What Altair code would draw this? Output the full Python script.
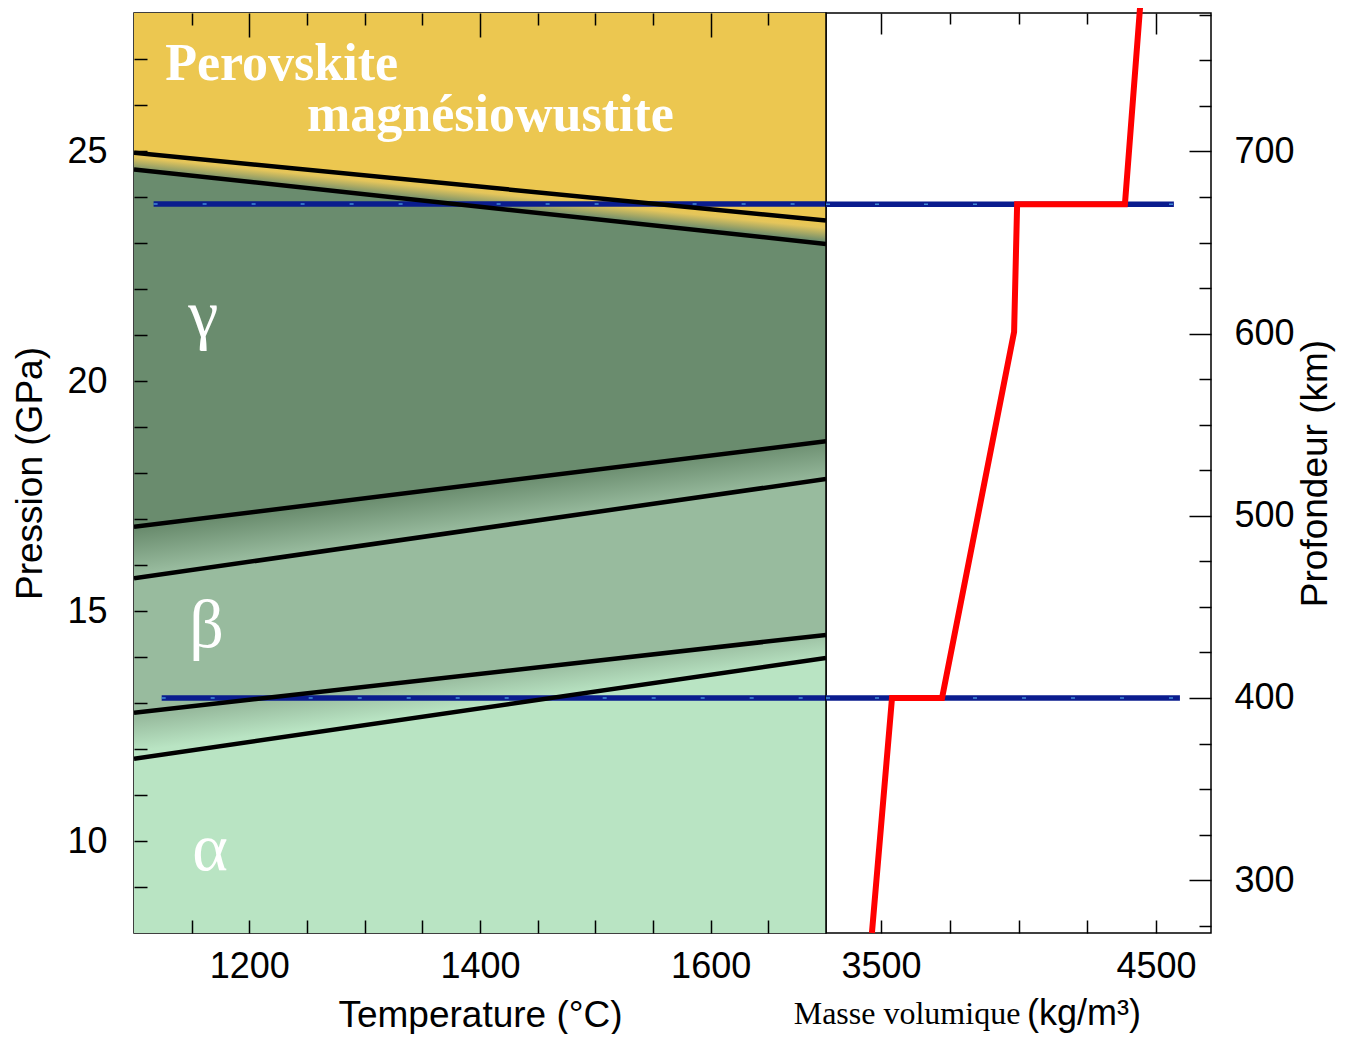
import altair as alt
import pandas as pd

# ---------------- data ----------------
T_ENDS = [1100, 1700]
LINE_A = [24.96, 23.49]
LINE_B = [24.60, 22.98]
LINE_C = [16.83, 18.69]
LINE_D = [15.71, 17.87]
LINE_E = [12.79, 14.48]
LINE_F = [11.79, 13.98]

T_RANGE = [1100, 1700]
P_RANGE = [8, 28]
RHO_RANGE = [3300, 4700]
DEPTH_RANGE = [271, 776]

BLUE_P = [23.85, 13.11]
BLUE_T_START = [1117, 1124]
BLUE_DEPTH = [671, 400]
BLUE_RHO_END = [4565, 4587]

RED_RHO = [4442, 4387, 3995, 3984, 3722, 3540, 3467]
RED_DEPTH = [779, 671, 671, 601, 400, 400, 271]

PHASE_TEXT = ["Perovskite", "magnésiowustite"]
PHASE_T = [1127, 1250]
PHASE_P = [26.55, 25.44]
GREEK_TEXT = ["γ", "β", "α"]
GREEK_T = [1160, 1163, 1166]
GREEK_P = [20.95, 14.22, 9.37]

X2_TITLE = ["Masse volumique", "(kg/m³)"]

T_LABELS = [1200, 1400, 1600]
P_LABELS = [10, 15, 20, 25]
RHO_LABELS = [3500, 4500]
DEPTH_LABELS = [300, 400, 500, 600, 700]
T_TICKS = [1150, 1200, 1250, 1300, 1350, 1400, 1450, 1500, 1550, 1600, 1650]
P_TICKS = list(range(9, 28))
RHO_TICKS = [3500, 3750, 4000, 4250, 4500]
DEPTH_TICKS = list(range(275, 776, 25))

# ---------------- style ----------------
W_L, W_R, H = 692, 385, 920
SANS = "Liberation Sans"
SERIF = "Liberation Serif"
YELLOW = "#ECC750"
GAMMA = "#6A8C6E"
BETA = "#98BB9E"
ALPHA = "#B9E4C3"
NAVY = "#0A1C8E"

XL = alt.Scale(domain=T_RANGE, nice=False, zero=False)
YL = alt.Scale(domain=P_RANGE, nice=False, zero=False)
XR = alt.Scale(domain=RHO_RANGE, nice=False, zero=False)
YR = alt.Scale(domain=DEPTH_RANGE, nice=False, zero=False)


def label_axis(orient, values, label_pad, **kw):
    return alt.Axis(orient=orient, values=values, format="d", ticks=False, tickSize=0, domain=False,
                    grid=False, labelFont=SANS, labelFontSize=36, labelColor="black",
                    labelPadding=label_pad, labelFlush=False, labelOverlap=False,
                    titleFont=SANS, titleFontSize=37, titleFontWeight="normal",
                    titleColor="black", zindex=3, **kw)


def tick_axis(orient, offset, values, size):
    return alt.Axis(orient=orient, offset=offset, values=values, labels=False, domain=False,
                    grid=False, title=None, ticks=True, tickSize=size, tickColor="black",
                    tickWidth=1.5, zindex=3)


def cond(test, big, small):
    return {"condition": {"test": test, "value": big}, "value": small}


# ---------------- left panel ----------------
region_rows = []
for name, lo, hi in [("alpha", [P_RANGE[0]] * 2, LINE_F), ("beta", LINE_E, LINE_D),
                     ("gamma", LINE_C, LINE_B), ("pv", LINE_A, [P_RANGE[1]] * 2)]:
    for t, l, h in zip(T_ENDS, lo, hi):
        region_rows.append({"region": name, "T": t, "lo": l, "hi": h})
regions_df = pd.DataFrame(region_rows)

regions = alt.Chart(regions_df).mark_area(clip=True).encode(
    x=alt.X("T:Q", scale=XL, axis=label_axis("bottom", T_LABELS, 16, title="Temperature (°C)", titlePadding=13)),
    y=alt.Y("lo:Q", scale=YL, axis=label_axis("left", P_LABELS, 27, title="Pression (GPa)", titlePadding=17)),
    y2="hi:Q",
    color=alt.Color("region:N", legend=None,
                    scale=alt.Scale(domain=["alpha", "beta", "gamma", "pv"],
                                    range=[ALPHA, BETA, GAMMA, YELLOW])),
)


def py(p):
    return (P_RANGE[1] - p) / (P_RANGE[1] - P_RANGE[0]) * H


def gradient(top, bot, stops):
    yt = [py(p) for p in top]
    yb = [py(p) for p in bot]
    ymin, ymax = min(yt), max(yb)
    bh = ymax - ymin
    nt = [(v - ymin) / bh for v in yt]
    nb = [(v - ymin) / bh for v in yb]
    st, sb = nt[1] - nt[0], nb[1] - nb[0]
    sa = (st + sb) / 2
    x1, y1 = 0.5, nt[0] + 0.5 * st
    gap = nb[0] + 0.5 * sb - y1
    s = gap / (1 + sa * sb)
    x2, y2 = 0.5 - s * sa, y1 + s
    return alt.Gradient(gradient="linear",
                        stops=[alt.GradientStop(color=c, offset=o) for o, c in stops],
                        x1=x1, y1=y1, x2=x2, y2=y2)


def band(top, bot, stops, xaxis=None, yaxis=None):
    df = pd.DataFrame({"T": T_ENDS, "lo": bot, "hi": top})
    return alt.Chart(df).mark_area(clip=True, color=gradient(top, bot, stops)).encode(
        x=alt.X("T:Q", scale=XL, axis=xaxis),
        y=alt.Y("lo:Q", scale=YL, axis=yaxis),
        y2="hi:Q",
    )


band_ab = band(LINE_A, LINE_B, [(0, YELLOW), (0.3, "#E4C55B"), (1, GAMMA)],
               xaxis=tick_axis("top", -H, T_TICKS, 13),
               yaxis=tick_axis("right", -W_L, P_TICKS, 13))
band_cd = band(LINE_C, LINE_D, [(0, GAMMA), (1, BETA)],
               xaxis=tick_axis("bottom", -H, T_TICKS, cond("datum.value % 200 === 0", 24, 12)))
band_ef = band(LINE_E, LINE_F, [(0, BETA), (1, ALPHA)])

blue_l_df = pd.DataFrame({"P": BLUE_P, "T0": BLUE_T_START, "T1": [T_RANGE[1]] * 2})
blue_l = alt.Chart(blue_l_df).mark_rule(color=NAVY, strokeWidth=5.5, clip=True).encode(
    x=alt.X("T0:Q", scale=XL, axis=None), x2="T1:Q", y=alt.Y("P:Q", scale=YL, axis=None))
blue_l2 = alt.Chart(blue_l_df).mark_rule(color="#4FA8E8", strokeWidth=1.5, strokeDash=[4, 45],
                                         opacity=0.8, clip=True).encode(
    x=alt.X("T0:Q", scale=XL, axis=None), x2="T1:Q", y=alt.Y("P:Q", scale=YL, axis=None))

line_rows = []
for name, vals in zip("ABCDEF", [LINE_A, LINE_B, LINE_C, LINE_D, LINE_E, LINE_F]):
    for t, p in zip(T_ENDS, vals):
        line_rows.append({"line": name, "T": t, "P": p})
lines = alt.Chart(pd.DataFrame(line_rows)).mark_line(color="black", strokeWidth=4.5, clip=True).encode(
    x=alt.X("T:Q", scale=XL, axis=None), y=alt.Y("P:Q", scale=YL, axis=None), detail="line:N")

phase_txt = alt.Chart(pd.DataFrame({"t": PHASE_TEXT, "T": PHASE_T, "P": PHASE_P})).mark_text(
    font=SERIF, fontSize=52, fontWeight="bold", color="white", align="left", baseline="alphabetic"
).encode(x=alt.X("T:Q", scale=XL, axis=None), y=alt.Y("P:Q", scale=YL, axis=None), text="t:N")

greek_txt = alt.Chart(pd.DataFrame({"t": GREEK_TEXT, "T": GREEK_T, "P": GREEK_P})).mark_text(
    font=SERIF, fontSize=68, color="white", align="center", baseline="alphabetic"
).encode(x=alt.X("T:Q", scale=XL, axis=None), y=alt.Y("P:Q", scale=YL, axis=None), text="t:N")

left = alt.layer(regions, band_ab, band_cd, band_ef, blue_l, blue_l2, lines, phase_txt, greek_txt
                 ).resolve_axis(x="independent", y="independent").properties(width=W_L, height=H)

# ---------------- right panel ----------------
blue_r_df = pd.DataFrame({"D": BLUE_DEPTH, "R0": [RHO_RANGE[0]] * 2, "R1": BLUE_RHO_END})
blue_r = alt.Chart(blue_r_df).mark_rule(color=NAVY, strokeWidth=5.5).encode(
    x=alt.X("R0:Q", scale=XR, axis=tick_axis("top", -H, RHO_TICKS, 13)),
    x2="R1:Q",
    y=alt.Y("D:Q", scale=YR, axis=tick_axis("left", -W_R, DEPTH_TICKS, cond("datum.value % 100 === 0", 22, 12))))
blue_r2 = alt.Chart(blue_r_df).mark_rule(color="#4FA8E8", strokeWidth=1.5, strokeDash=[4, 45], opacity=0.8).encode(
    x=alt.X("R0:Q", scale=XR, axis=tick_axis("bottom", -H, RHO_TICKS, cond("datum.value % 1000 === 500", 21, 11))),
    x2="R1:Q",
    y=alt.Y("D:Q", scale=YR, axis=None))

red_df = pd.DataFrame({"rho": RED_RHO, "depth": RED_DEPTH, "i": list(range(len(RED_RHO)))})
red = alt.Chart(red_df).mark_line(color="#FF0000", strokeWidth=6).encode(
    x=alt.X("rho:Q", scale=XR, axis=label_axis("bottom", RHO_LABELS, 16, title=None)),
    y=alt.Y("depth:Q", scale=YR, axis=label_axis("right", DEPTH_LABELS, 23, title="Profondeur (km)",
                                                 titlePadding=3, titleAngle=270, titleBaseline="top")),
    order="i:Q")

mv_txt = alt.Chart(pd.DataFrame({"t": [X2_TITLE[0]]})).mark_text(
    font=SERIF, fontSize=32, color="black", align="center", baseline="middle"
).encode(x=alt.value(81), y=alt.value(1001), text="t:N")
unit_txt = alt.Chart(pd.DataFrame({"t": [X2_TITLE[1]]})).mark_text(
    font=SANS, fontSize=36, color="black", align="center", baseline="middle"
).encode(x=alt.value(258), y=alt.value(1001), text="t:N")

right = alt.layer(blue_r, blue_r2, red, mv_txt, unit_txt
                  ).resolve_axis(x="independent", y="independent").properties(width=W_R, height=H)

chart = alt.hconcat(left, right, spacing=0, bounds="flush").resolve_scale(
    x="independent", y="independent"
).configure_view(stroke="black", strokeWidth=1.5).properties(
    padding={"left": 3, "top": -14, "right": 5, "bottom": 0}
)

chart.save("out.html", embed_options={"renderer": "svg", "actions": False})
